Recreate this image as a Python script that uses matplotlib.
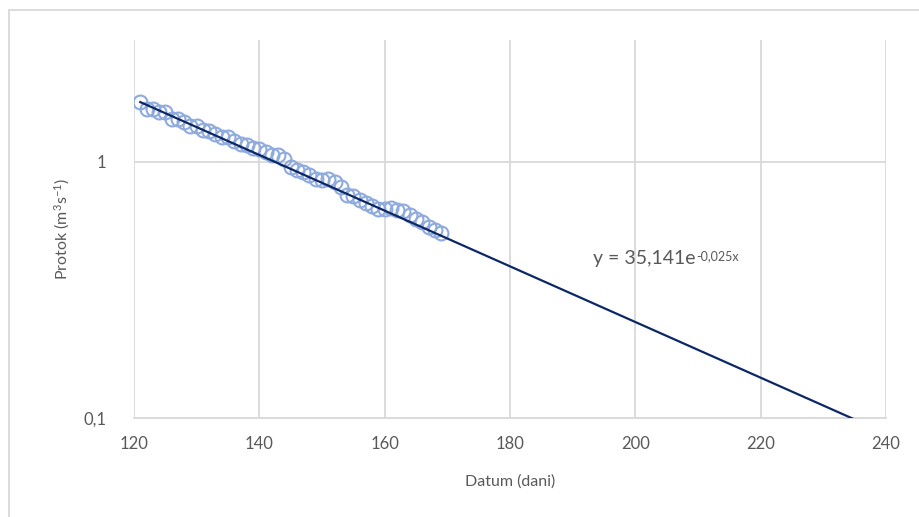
import numpy as np
import matplotlib
matplotlib.use('Agg')
import matplotlib.pyplot as plt
from matplotlib.patches import Rectangle
from matplotlib.ticker import FixedLocator, FuncFormatter, NullLocator

plt.rcParams['font.family'] = ['Lato', 'DejaVu Sans']
plt.rcParams['mathtext.fontset'] = 'custom'
plt.rcParams['mathtext.rm'] = 'Lato'
plt.rcParams['mathtext.default'] = 'regular'

# measured discharge, days 121-169
days = np.arange(121, 170)
flow = [1.712, 1.607, 1.607, 1.565, 1.565, 1.470, 1.470, 1.431, 1.380, 1.380,
        1.332, 1.320, 1.285, 1.251, 1.251, 1.207, 1.175, 1.165, 1.134, 1.124,
        1.094, 1.065, 1.065, 1.027, 0.956, 0.931, 0.914, 0.890, 0.859, 0.851,
        0.859, 0.829, 0.799, 0.744, 0.737, 0.711, 0.687, 0.674, 0.656, 0.656,
        0.662, 0.645, 0.639, 0.617, 0.595, 0.579, 0.558, 0.539, 0.525]

# exponential trend  y = 35,141 e^(-0,025x), forecast to 240
trend_a = 35.141
trend_b = -0.025
trend_x = np.linspace(121, 240, 300)
trend_y = trend_a * np.exp(trend_b * trend_x)

grid_col = '#d9d9d9'
text_col = '#595959'

fig = plt.figure(figsize=(9.19, 5.17), dpi=100)
ax = fig.add_axes([134 / 919, 1 - 418 / 517, (886 - 134) / 919, (418 - 40) / 517])

ax.plot(days, flow, 'o', markersize=10, markerfacecolor='none',
        markeredgecolor='#8faadc', markeredgewidth=1.5, zorder=3)
ax.plot(trend_x, trend_y, '-', color='#0c2766', linewidth=1.6, zorder=4)

ax.set_yscale('log')
ax.set_xlim(120, 240)
ax.set_ylim(0.1, 2.98)
ax.xaxis.set_major_locator(FixedLocator(np.arange(120, 241, 20)))
ax.yaxis.set_major_locator(FixedLocator([0.1, 1]))
ax.yaxis.set_minor_locator(NullLocator())
ax.yaxis.set_major_formatter(FuncFormatter(lambda v, p: '0,1' if v < 0.5 else '1'))
ax.grid(True, color=grid_col, linewidth=1.3)
ax.set_axisbelow(True)
for s in ['top', 'right', 'left']:
    ax.spines[s].set_visible(False)
ax.spines['bottom'].set_color(grid_col)
ax.spines['bottom'].set_linewidth(1.3)
ax.tick_params(length=0, labelsize=12, colors=text_col)
ax.tick_params(axis='x', pad=13)
ax.tick_params(axis='y', pad=20)

ax.set_xlabel('Datum (dani)', fontsize=11.5, color=text_col, labelpad=16)
ax.set_ylabel('Protok (m$^{3}$s$^{-1}$)', fontsize=11.5, color=text_col, labelpad=8)

eq = ax.text(193.3, 0.42, 'y = 35,141e', fontsize=14, color=text_col,
             va='center', ha='left')
ax.annotate('-0,025x', xy=(1, 0.95), xycoords=eq, fontsize=9, color=text_col,
            va='top', ha='left')

# chart border
fig.patches.append(Rectangle((9 / 919, -0.05), 1.0, 1 - 10 / 517 + 0.05,
                             transform=fig.transFigure, fill=False,
                             edgecolor=grid_col, linewidth=1.3))

fig.savefig('out.png', dpi=100)
